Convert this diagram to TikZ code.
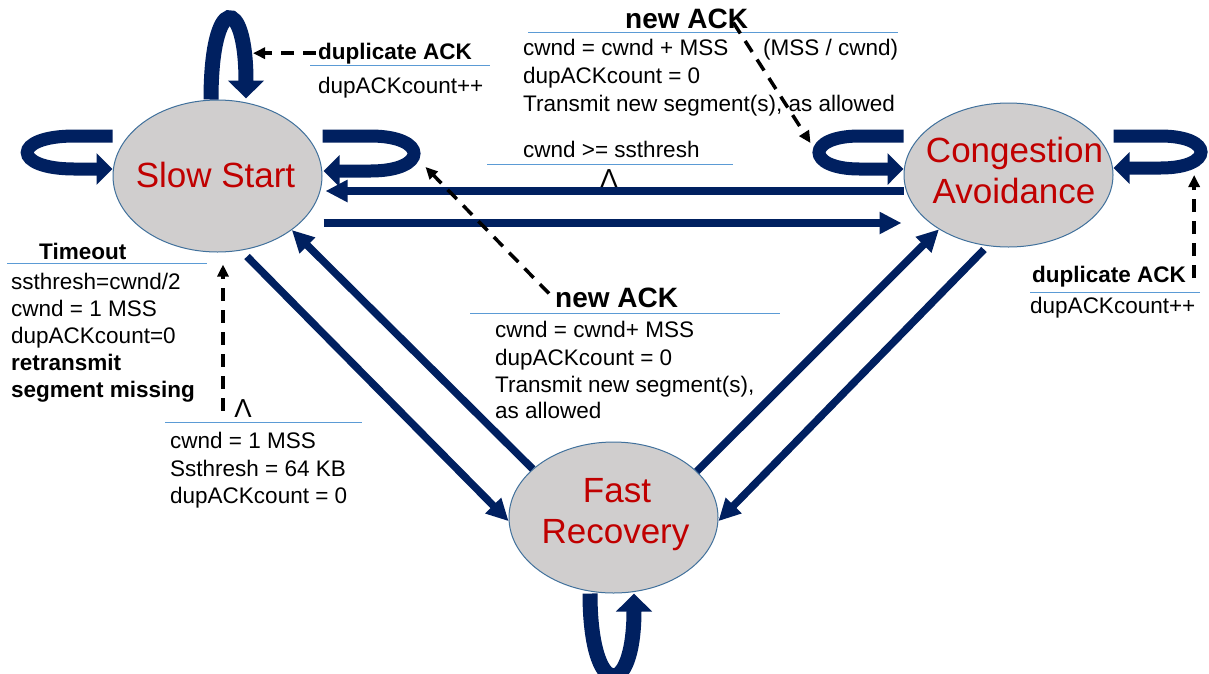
\documentclass[tikz,border=0pt]{standalone}
\usepackage{fontspec}
\setmainfont{Liberation Sans}
\usetikzlibrary{shapes.geometric,arrows.meta,calc}
\definecolor{arrnavy}{RGB}{0,32,96}
\definecolor{statefill}{RGB}{208,206,206}
\definecolor{stateline}{RGB}{65,113,156}
\definecolor{statered}{RGB}{192,0,0}
\definecolor{rulecol}{RGB}{91,155,213}
\begin{document}
\begin{tikzpicture}[x=1pt,y=-1pt,
 state/.style={ellipse, draw=stateline, line width=1pt, fill=statefill, inner sep=0pt, minimum width=209pt, minimum height=152pt},
 statetext/.style={anchor=base, inner sep=0pt, text=statered, font=\fontsize{35}{41}\selectfont},
 txt/.style={anchor=base west, inner sep=0pt, font=\fontsize{22.5}{27}\selectfont},
 btxt/.style={anchor=base west, inner sep=0pt, font=\fontsize{22.5}{27}\selectfont\bfseries},
 bigtxt/.style={anchor=base west, inner sep=0pt, font=\fontsize{28}{32}\selectfont\bfseries},
 lam/.style={anchor=base, inner sep=0pt, font=\fontsize{26}{30}\selectfont},
 rule/.style={draw=rulecol, line width=1pt},
 bigarrow/.style={draw=arrnavy, line width=7.5pt, -{Triangle[length=22pt,width=21pt]}},
 looparrow/.style={draw=arrnavy, line width=13pt, -{Triangle[length=16pt,width=31pt]}},
 vloop/.style={draw=arrnavy, line width=15pt, -{Triangle[length=18pt,width=35pt]}},
 dasharrow/.style={draw=black, line width=3.5pt, dash pattern=on 13pt off 9pt, -{Triangle[length=12pt,width=11pt]}},
]
\useasboundingbox (0,0) rectangle (1209,673);
\fill[white] (0,0) rectangle (1209,673);

% states
\node[state] (ss) at (217.5,176) {};
\node[state, minimum height=144pt] (ca) at (1008.5,175) {};
\node[state, minimum height=151pt] (fr) at (613.5,517.5) {};
\node[statetext] (sslbl) at (215.5,187) {Slow Start};
\node[statetext] (calbl1) at (1014.5,162) {Congestion};
\node[statetext] (calbl2) at (1014,203) {Avoidance};
\node[statetext] (frlbl1) at (617,502) {Fast};
\node[statetext] (frlbl2) at (615.5,543) {Recovery};

% straight transitions
\draw[bigarrow] ($(ca.west)+(0,16)$) -- ($(ss.east)+(3,15)$);
\draw[bigarrow] ($(ss.east)+(1,47)$) -- ($(ca.west)+(-2,48)$);
\draw[bigarrow] (fr.149.8) -- (ss.-36.9);
\draw[bigarrow] ($(ss.south)+(29.5,4)$) -- (fr.182.5);
\draw[bigarrow] (fr.29.6) -- (ca.218.1);
\draw[bigarrow] ($(ca.south)+(-24.5,2)$) -- (fr.-2.5);

% self loops
\draw[vloop] ($(ss.north)+(-6.5,0)$) .. controls ($(ss.north)+(-6.5,-106)$) and ($(ss.north)+(28.5,-106)$) .. ($(ss.north)+(28.5,-1)$);
\draw[vloop] ($(fr.south)+(-23.5,0)$) .. controls ($(fr.south)+(-23.5,107)$) and ($(fr.south)+(20.5,107)$) .. ($(fr.south)+(20.5,0)$);
\draw[looparrow] ($(ss.west)+(0,-40)$) -- ($(ss.west)+(-38,-40)$) .. controls ($(ss.west)+(-101,-40)$) and ($(ss.west)+(-101,-7)$) .. ($(ss.west)+(-38,-7)$) -- ($(ss.west)+(0,-7)$);
\draw[looparrow] ($(ss.east)+(0,-40)$) -- ($(ss.east)+(48,-40)$) .. controls ($(ss.east)+(106,-40)$) and ($(ss.east)+(106,-5)$) .. ($(ss.east)+(48,-5)$) -- ($(ss.east)+(1,-5)$);
\draw[looparrow] ($(ca.west)+(0,-39)$) -- ($(ca.west)+(-44,-39)$) .. controls ($(ca.west)+(-98,-39)$) and ($(ca.west)+(-98,-6)$) .. ($(ca.west)+(-44,-6)$) -- ($(ca.west)+(0,-6)$);
\draw[looparrow] ($(ca.east)+(0,-39)$) -- ($(ca.east)+(47,-39)$) .. controls ($(ca.east)+(101,-39)$) and ($(ca.east)+(101,-7)$) .. ($(ca.east)+(47,-7)$) -- ($(ca.east)+(0,-7)$);

% rules
\draw[rule] (310,65) -- (490,65);
\draw[rule] (528,32) -- (898,32);
\draw[rule] (487,164) -- (733,164);
\draw[rule] (7,263) -- (207,263);
\draw[rule] (165,422) -- (362,422);
\draw[rule] (470,313) -- (780,313);
\draw[rule] (1030,292) -- (1200,292);

% top-left label
\node[btxt] (dup1) at (318,59) {duplicate ACK};
\node[txt] (dup1a) at (318,93) {dupACKcount++};

% top-middle label
\node[bigtxt] (newack1) at (625,28) {new ACK};
\node[txt] (na1a) at (523,55) {cwnd = cwnd + MSS};
\node[txt] (na1b) at (763,55) {(MSS / cwnd)};
\node[txt] (na1c) at (523,83) {dupACKcount = 0};
\node[txt] (na1d) at (523,111) {Transmit new segment(s), as allowed};

% threshold label
\node[txt] (thr) at (523,157) {cwnd >= ssthresh};
\node[lam] (and2) at (609,187) {Λ};

% timeout label
\node[btxt] (tmo) at (39,259) {Timeout};
\node[txt] (tmoa) at (11,289) {ssthresh=cwnd/2};
\node[txt] (tmob) at (11,316) {cwnd = 1 MSS};
\node[txt] (tmoc) at (11,343) {dupACKcount=0};
\node[btxt] (tmod) at (11,370) {retransmit};
\node[btxt] (tmoe) at (11,397) {segment missing};

% init label
\node[lam] (and1) at (243,417) {Λ};
\node[txt] (inia) at (170,448) {cwnd = 1 MSS};
\node[txt] (inib) at (170,476) {Ssthresh = 64 KB};
\node[txt] (inic) at (170,503) {dupACKcount = 0};

% middle label
\node[bigtxt] (newack2) at (555,307) {new ACK};
\node[txt] (na2a) at (495,337) {cwnd = cwnd+ MSS};
\node[txt] (na2b) at (495,365) {dupACKcount = 0};
\node[txt] (na2c) at (495,392) {Transmit new segment(s),};
\node[txt] (na2d) at (495,418) {as allowed};

% right label
\node[btxt] (dup2) at (1032,282) {duplicate ACK};
\node[txt] (dup2a) at (1030,313) {dupACKcount++};

% dashed event arrows
\coordinate (sstopr) at ($(ss.north)+(35.5,0)$);
\draw[dasharrow] ([xshift=-2pt]dup1.west) -- (dup1.west -| sstopr);
\draw[dasharrow] ($(newack1.south east)+(-15,-6)$) -- ($(ca.west)+(-93,-32)$);
\draw[dasharrow] ($(newack2.south west)+(-6,-14)$) -- ($(ss.east)+(103,-9)$);
\coordinate (d3s) at ($(dup2.east)+(8,2)$);
\draw[dasharrow] (d3s) -- (d3s |- ca.east);
\coordinate (d4s) at ($(ss.south)+(5.5,158)$);
\draw[dasharrow] (d4s) -- ($(ss.south)+(5.5,12)$);
\end{tikzpicture}
\end{document}
